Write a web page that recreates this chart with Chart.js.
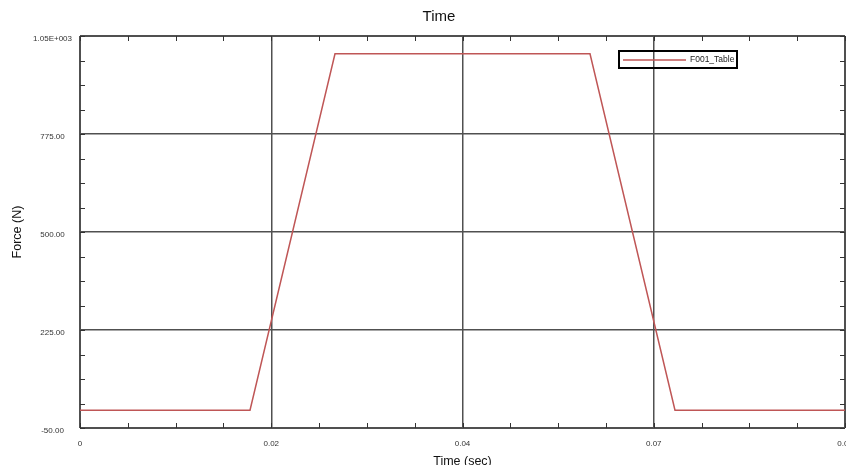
<!DOCTYPE html>
<html>
<head>
<meta charset="utf-8">
<script src="https://cdn.jsdelivr.net/npm/chart.js@4.4.0/dist/chart.umd.min.js"></script>
<style>html,body{margin:0;padding:0;background:#fff;overflow:hidden}</style>
</head>
<body>
<canvas id="myChart" width="846" height="465"></canvas>
<script>
var timeValues = [0, 0.02, 0.03, 0.06, 0.07, 0.09];
var forceValues = [0, 0, 1000, 1000, 0, 0];
var xTickLabels = ['0', '0.02', '0.04', '0.07', '0.09'];
var yTickLabels = ['-50.00', '225.00', '500.00', '775.00', '1.05E+003'];

var FONT = "'Liberation Sans', Arial, sans-serif";
var GRID = '#505050';

function gridColor(c) { return c.index % 4 === 0 ? GRID : 'rgba(0,0,0,0)'; }
function gridWidth(c) { return (c.index === 0 || c.index === 16) ? 2 : 1.5; }

// short inward tick marks on all four sides + boxed legend
var frameTicks = {
    id: 'frameTicks',
    afterLayout: function (chart) {
        // title centred a bit left of the plot centre
        if (chart.titleBlock) { chart.titleBlock.left = 33; }
    },
    afterDraw: function (chart) {
        var a = chart.chartArea, ctx = chart.ctx;
        var sx = chart.scales.x, sy = chart.scales.y;
        ctx.save();
        ctx.strokeStyle = '#333';
        ctx.lineWidth = 1;
        ctx.beginPath();
        sx.ticks.forEach(function (t) {
            var px = Math.round(sx.getPixelForValue(t.value)) + 0.5;
            ctx.moveTo(px, a.top); ctx.lineTo(px, a.top + 5);
            ctx.moveTo(px, a.bottom); ctx.lineTo(px, a.bottom - 5);
        });
        sy.ticks.forEach(function (t) {
            var py = Math.round(sy.getPixelForValue(t.value)) + 0.5;
            ctx.moveTo(a.left, py); ctx.lineTo(a.left + 5, py);
            ctx.moveTo(a.right, py); ctx.lineTo(a.right - 5, py);
        });
        ctx.stroke();

        // legend box
        var ds = chart.data.datasets[0];
        var lx = a.right - 226, ly = a.top + 15;
        ctx.strokeStyle = '#000';
        ctx.lineWidth = 2;
        ctx.strokeRect(lx, ly, 118, 17);
        ctx.strokeStyle = ds.borderColor;
        ctx.lineWidth = 1.5;
        ctx.beginPath();
        ctx.moveTo(lx + 4, ly + 9); ctx.lineTo(lx + 67, ly + 9);
        ctx.stroke();
        ctx.fillStyle = '#222';
        ctx.font = '8.5px ' + FONT;
        ctx.textBaseline = 'middle';
        ctx.fillText(ds.label, lx + 71, ly + 9);
        ctx.restore();
    }
};

var ctx = document.getElementById('myChart').getContext('2d');

var myChart = new Chart(ctx, {
    type: 'line',
    data: {
        datasets: [{
            label: 'F001_Table',
            data: timeValues.map(function (t, i) { return {x: t, y: forceValues[i]}; }),
            borderColor: '#bf5656',
            borderWidth: 1.5,
            pointRadius: 0,
            tension: 0,
            fill: false
        }]
    },
    options: {
        responsive: false,
        animation: false,
        layout: { padding: { right: 1 } },
        plugins: {
            legend: { display: false },
            tooltip: { enabled: false },
            title: {
                display: true,
                text: 'Time',
                color: '#111',
                font: { family: FONT, size: 15, weight: 'normal' },
                padding: { top: 8, bottom: 10 }
            }
        },
        scales: {
            x: {
                type: 'linear',
                min: 0,
                max: 0.09,
                grid: { color: gridColor, lineWidth: gridWidth, drawTicks: false },
                border: { display: false },
                ticks: {
                    stepSize: 0.005625,
                    autoSkip: false,
                    maxRotation: 0,
                    padding: 11,
                    color: '#333',
                    font: { family: FONT, size: 8 },
                    callback: function (v, i) { return i % 4 === 0 ? xTickLabels[i / 4] : ''; }
                },
                title: {
                    display: true,
                    text: 'Time (sec)',
                    color: '#111',
                    font: { family: FONT, size: 12.5, lineHeight: 0.5 },
                    padding: 0
                },
                afterFit: function (s) { s.height = 37; s.paddingLeft = 0; s.paddingRight = 0; }
            },
            y: {
                min: -50,
                max: 1050,
                grid: { color: gridColor, lineWidth: gridWidth, drawTicks: false },
                border: { display: false },
                ticks: {
                    stepSize: 68.75,
                    autoSkip: false,
                    crossAlign: 'center',
                    padding: 8,
                    labelOffset: 3,
                    color: '#333',
                    font: { family: FONT, size: 8 },
                    callback: function (v, i) { return i % 4 === 0 ? yTickLabels[i / 4] : ''; }
                },
                title: {
                    display: true,
                    text: 'Force (N)',
                    color: '#111',
                    font: { family: FONT, size: 12.5 },
                    padding: { top: 10, bottom: 0 }
                },
                afterFit: function (s) { s.width = 80; }
            }
        }
    },
    plugins: [frameTicks]
});
</script>
</body>
</html>
